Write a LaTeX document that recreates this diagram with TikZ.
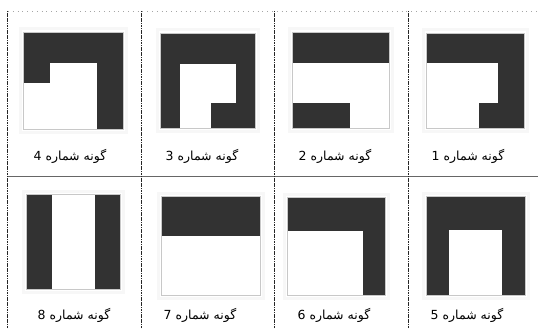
\documentclass[tikz,border=0pt]{standalone}
\usepackage{fontspec}
\newfontfamily\arabicfont[Script=Arabic]{DejaVu Sans}
\TeXXeTstate=1
\definecolor{dk}{RGB}{50,50,50}
\definecolor{edge}{RGB}{200,200,200}
\tikzset{
  dark/.style={fill=dk},
  whitepart/.style={fill=white},
  sqframe/.style={draw=edge, line width=0.6pt},
  halo/.style={draw=black!3, line width=3pt},
  vline/.style={draw=black!85, line width=0.6pt, dash pattern=on 1.2pt off 0.5pt},
  topline/.style={draw=black!35, line width=0.7pt, dash pattern=on 0.8pt off 4pt},
  midline/.style={draw=black!60, line width=0.8pt},
  lbl/.style={font=\arabicfont\fontsize{12.5}{14}\selectfont, inner sep=0pt}
}
\newcommand{\gunelabel}[1]{\beginR گونه شماره \beginL#1\endL\endR}
\begin{document}
\begin{tikzpicture}[x=1pt,y=-1pt]
\useasboundingbox (0,0) rectangle (538,329);
\fill[white] (0,0) rectangle (538,329);
% grid lines
\draw[topline] (8,11) -- (538,11);
\draw[midline] (7.5,176) -- (538,176);
\foreach \xx in {7.5,141,274.5,408.5}{\draw[vline] (\xx,11) -- (\xx,329);}
% halos
\foreach \a/\b/\c/\d in {23/32/123/129,160/33/255/128,292/32/389/128,426/33/524/128,26/194/120/289,161/196/260/295,287/197/385/295,426/196/525/295}{
  \draw[halo] (\a-3,\b-3) rectangle (\c+3,\d+3);}
% square 4
\fill[dark] (23,32) rectangle (123,63);
\fill[dark] (23,63) rectangle (50,83);
\fill[dark] (97,63) rectangle (123,129);
\draw[sqframe] (23,32) rectangle (123,129);
% square 3
\fill[dark] (160,33) rectangle (255,128);
\fill[whitepart] (180,64) rectangle (236,103);
\fill[whitepart] (180,103) rectangle (211,128);
\draw[sqframe] (160,33) rectangle (255,128);
% square 2
\fill[dark] (292,32) rectangle (389,63);
\fill[dark] (292,103) rectangle (350,128);
\draw[sqframe] (292,32) rectangle (389,128);
% square 1
\fill[dark] (426,33) rectangle (524,63);
\fill[dark] (498,63) rectangle (524,128);
\fill[dark] (479,103) rectangle (498,128);
\draw[sqframe] (426,33) rectangle (524,128);
% square 8
\fill[dark] (26,194) rectangle (51.5,289);
\fill[dark] (95,194) rectangle (120,289);
\draw[sqframe] (26,194) rectangle (120,289);
% square 7
\fill[dark] (161,196) rectangle (260,236);
\draw[sqframe] (161,196) rectangle (260,295);
% square 6
\fill[dark] (287,197) rectangle (385,231);
\fill[dark] (362.6,231) rectangle (385,295);
\draw[sqframe] (287,197) rectangle (385,295);
% square 5
\fill[dark] (426,196) rectangle (525,295);
\fill[whitepart] (449.4,230) rectangle (502,295);
\draw[sqframe] (426,196) rectangle (525,295);
% labels
\node[lbl] (l4) at (70,156) {\gunelabel{4}};
\node[lbl] (l3) at (202,156) {\gunelabel{3}};
\node[lbl] (l2) at (335,156) {\gunelabel{2}};
\node[lbl] (l1) at (468,156) {\gunelabel{1}};
\node[lbl] (l8) at (74,315) {\gunelabel{8}};
\node[lbl] (l7) at (200,315) {\gunelabel{7}};
\node[lbl] (l6) at (334,315) {\gunelabel{6}};
\node[lbl] (l5) at (467,315) {\gunelabel{5}};
\end{tikzpicture}
\end{document}
